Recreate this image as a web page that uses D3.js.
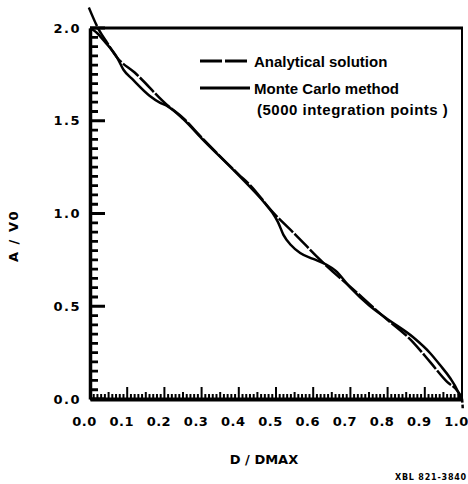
<!DOCTYPE html>
<html lang="en">

<head>
    <meta charset="UTF-8">
    <title>A / V0 vs D / DMAX</title>
    <style>
        body {
            margin: 0;
            padding: 0;
            background: #fff;
        }

        svg {
            display: block;
            font-family: "DejaVu Sans", Arial, sans-serif;
            font-weight: bold;
        }

        .legend text {
            font-family: "Liberation Sans", Arial, sans-serif;
            font-size: 15px;
        }
    </style>
</head>

<body>
    <svg id="chart" width="468" height="484"></svg>

    <script src="https://d3js.org/d3.v7.min.js"></script>
    <script>
        // analytical solution
        const analyticalD = [-0.003, 0.024, 0.043, 0.073, 0.12, 0.207, 0.25, 0.3, 0.4, 0.43, 0.49, 0.55, 0.624, 0.734, 0.78, 0.868, 0.914, 0.96, 0.987, 1.0, 1.002];
        const analyticalA = [2.11, 1.99, 1.93, 1.84, 1.76, 1.585, 1.515, 1.41, 1.21, 1.154, 1.01, 0.89, 0.74, 0.544, 0.46, 0.307, 0.2, 0.092, 0.045, 0.0, -0.05];

        // Monte Carlo method (5000 integration points)
        const monteCarloD = [0, 0.019, 0.038, 0.073, 0.09, 0.116, 0.16, 0.19, 0.207, 0.25, 0.3, 0.4, 0.47, 0.49, 0.505, 0.52, 0.54, 0.565, 0.6, 0.635, 0.66, 0.7, 0.75, 0.8, 0.868, 0.914, 0.941, 0.968, 0.987, 0.997];
        const monteCarloA = [2.0, 1.973, 1.93, 1.84, 1.775, 1.72, 1.635, 1.595, 1.58, 1.51, 1.405, 1.205, 1.055, 1.005, 0.955, 0.885, 0.83, 0.787, 0.755, 0.725, 0.692, 0.6, 0.505, 0.43, 0.334, 0.248, 0.183, 0.113, 0.049, 0.0];

        const xTicks = [0, 0.1, 0.2, 0.3, 0.4, 0.5, 0.6, 0.7, 0.8, 0.9, 1.0];
        const yTicks = [0, 0.5, 1.0, 1.5, 2.0];
        const legendLabels = ["Analytical solution", "Monte Carlo method", "(5000 integration points )"];

        const svg = d3.select('#chart');

        const plotLeft = 90, plotRight = 462, plotTop = 28, plotBottom = 399;
        const xScale = d3.scaleLinear().domain([0, 1]).range([plotLeft, plotRight]);
        const yScale = d3.scaleLinear().domain([0, 2]).range([plotBottom, plotTop]);

        const line = d3.line()
            .x(d => xScale(d[0]))
            .y(d => yScale(d[1]))
            .curve(d3.curveMonotoneX);

        svg.append('path')
            .datum(d3.zip(analyticalD, analyticalA))
            .attr('d', line)
            .attr('fill', 'none')
            .attr('stroke', '#000')
            .attr('stroke-width', 2.5)
            .attr('stroke-dasharray', '20,2');

        svg.append('path')
            .datum(d3.zip(monteCarloD, monteCarloA))
            .attr('d', line)
            .attr('fill', 'none')
            .attr('stroke', '#000')
            .attr('stroke-width', 2.5);

        // axis lines and labels
        svg.append('g')
            .attr('transform', `translate(${plotLeft},0)`)
            .call(d3.axisLeft(yScale).tickValues(yTicks).tickSize(0).tickPadding(9).tickFormat(d3.format('.1f')))
            .call(g => g.select('.domain').attr('stroke-width', 3.5))
            .call(g => g.selectAll('text').attr('font-size', 13).attr('letter-spacing', 1.5).attr('font-family', 'DejaVu Sans').attr('font-weight', 'bold'));

        svg.append('g')
            .attr('transform', `translate(0,${plotBottom})`)
            .call(d3.axisBottom(xScale).tickValues(xTicks).tickSize(0).tickPadding(18).tickFormat(d3.format('.1f')))
            .call(g => g.select('.domain').attr('stroke-width', 4))
            .call(g => g.selectAll('text').attr('dx', -6).attr('font-size', 13).attr('letter-spacing', 0.5).attr('font-family', 'DejaVu Sans').attr('font-weight', 'bold'));

        // tick marks, all pointing into the plot, drawn last so nothing covers them
        const yMinor = d3.range(0, 41).map(i => i * 0.05);
        svg.append('path')
            .attr('d', yMinor.map((d, i) => `M${plotLeft},${yScale(d)}h${i % 10 === 0 ? 15 : 8}`).join(''))
            .attr('stroke', '#000')
            .attr('stroke-width', 2.8)
            .attr('fill', 'none');

        const xMinor = d3.range(0, 101).map(i => i / 100);
        svg.append('path')
            .attr('d', xMinor.map((d, i) => `M${xScale(d)},${plotBottom}v${-(i % 10 === 0 ? 12 : i % 5 === 0 ? 7 : 5)}`).join(''))
            .attr('stroke', '#000')
            .attr('stroke-width', 2)
            .attr('fill', 'none');

        // top and right frame
        svg.append('line').attr('x1', plotLeft).attr('x2', plotRight + 1).attr('y1', plotTop).attr('y2', plotTop)
            .attr('stroke', '#000').attr('stroke-width', 3);
        svg.append('line').attr('x1', plotRight).attr('x2', plotRight).attr('y1', plotTop).attr('y2', plotBottom)
            .attr('stroke', '#000').attr('stroke-width', 2);

        // legend
        const legend = svg.append('g').attr('class', 'legend');
        legend.append('line').attr('x1', 200).attr('x2', 250).attr('y1', 61).attr('y2', 61)
            .attr('stroke', '#000').attr('stroke-width', 3).attr('stroke-dasharray', '22,3');
        legend.append('line').attr('x1', 200).attr('x2', 250).attr('y1', 88).attr('y2', 88)
            .attr('stroke', '#000').attr('stroke-width', 3);
        legend.append('text').attr('x', 254).attr('y', 67).text(legendLabels[0]);
        legend.append('text').attr('x', 254).attr('y', 94).text(legendLabels[1]);
        legend.append('text').attr('x', 257).attr('y', 115).attr('letter-spacing', 0.5).text(legendLabels[2]);

        // axis titles
        svg.append('text')
            .attr('transform', 'translate(18,236) rotate(-90)')
            .attr('text-anchor', 'middle')
            .attr('font-size', 13)
            .attr('letter-spacing', 1.5)
            .text('A / V0');

        svg.append('text')
            .attr('x', 264).attr('y', 464)
            .attr('text-anchor', 'middle')
            .attr('font-size', 13)
            .text('D / DMAX');

        svg.append('text')
            .attr('x', 467).attr('y', 480)
            .attr('text-anchor', 'end')
            .attr('font-size', 8)
            .attr('letter-spacing', 0.8)
            .text('XBL 821-3840');
    </script>
</body>

</html>
